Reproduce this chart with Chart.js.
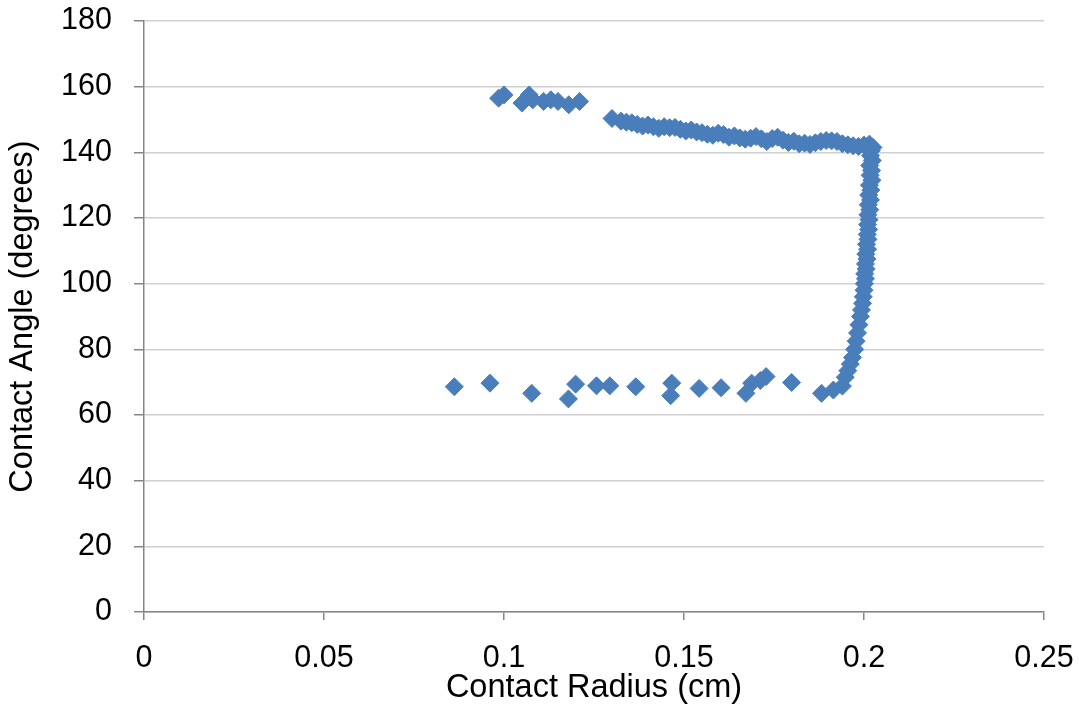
<!DOCTYPE html>
<html><head><meta charset="utf-8">
<script src="https://cdn.jsdelivr.net/npm/chart.js@4/dist/chart.umd.min.js"></script>
<style>html,body{margin:0;padding:0;background:#fff}#wrap{width:1079px;height:711px}</style>
</head><body><div id="wrap"><canvas id="c" width="1079" height="711"></canvas></div>
<script>
// Contact radius (cm)
const radius = [
  0.0985,0.1000,0.1050,0.1070,0.1080,0.1110,0.1130,0.1150,0.1180,0.1210,
  0.1300,0.1325,0.1340,0.1355,0.1370,0.1385,0.1400,0.1415,0.1430,0.1445,
  0.1460,0.1475,0.1490,0.1505,0.1520,0.1535,0.1550,0.1565,0.1580,0.1595,
  0.1610,0.1625,0.1640,0.1655,0.1670,0.1685,0.1700,0.1715,0.1730,0.1745,
  0.1760,0.1775,0.1790,0.1805,0.1820,0.1835,0.1850,0.1865,0.1880,0.1895,
  0.1910,0.1925,0.1940,0.1955,0.1970,0.1985,0.2000,0.2015,0.2025,
  0.2020,0.2018,0.2023,0.2016,0.2021,0.2017,0.2022,0.2015,0.2019,0.2013,
  0.2018,0.2012,0.2016,0.2011,0.2014,0.2010,0.2013,0.2009,0.2011,0.2007,
  0.2010,0.2005,0.2008,0.2004,0.2006,0.2002,0.2004,0.2001,0.2000,0.1998,
  0.1996,0.1993,0.1990,0.1986,0.1982,0.1978,0.1974,0.1968,0.1962,0.1955,0.1948,
  0.0862,0.0961,0.1077,0.1179,0.1199,0.1257,0.1294,0.1366,0.1463,0.1466,
  0.1542,0.1603,0.1672,0.1688,0.1712,0.1728,0.1799,0.1882,0.1915,0.1940
];
// Contact angle (degrees)
const angle = [
  156.5,157.5,155.0,157.5,156.0,155.5,156.0,155.5,154.5,155.5,
  150.3,149.5,149.2,149.0,148.5,148.0,148.3,147.8,147.3,147.8,
  147.5,147.6,147.0,146.5,146.8,146.2,146.0,145.5,145.2,145.8,
  145.4,144.6,145.0,144.4,144.0,144.3,144.8,144.1,143.3,144.2,
  144.6,143.7,143.0,143.4,142.6,142.8,142.4,142.9,143.3,143.6,
  143.5,143.3,142.6,142.3,142.0,141.8,142.2,142.5,141.5,
  140.5,139.0,137.5,136.0,134.5,133.0,131.5,130.0,128.5,127.0,
  125.5,124.0,122.5,121.0,119.5,118.0,116.5,115.0,113.5,112.0,
  110.5,109.0,107.5,106.0,104.5,103.0,101.5,100.0,98.0,96.0,
  94.0,92.0,90.0,87.5,85.0,82.5,80.0,77.5,75.5,73.5,71.5,
  68.6,69.7,66.6,64.9,69.4,68.9,68.9,68.6,65.9,69.7,
  68.1,68.3,66.6,69.7,70.5,71.7,69.9,66.6,67.6,68.8
];
const xTicks = [0, 0.05, 0.1, 0.15, 0.2, 0.25];
const yTicks = [0, 20, 40, 60, 80, 100, 120, 140, 160, 180];

const pts = radius.map((r, i) => ({x: r, y: angle[i]}));
const FONT = "'Liberation Sans', Arial, sans-serif";

new Chart(document.getElementById('c'), {
  type: 'scatter',
  data: { datasets: [{
    data: pts,
    pointStyle: 'rectRot',
    pointRadius: 9,
    pointBackgroundColor: '#4a7ebb',
    pointBorderColor: '#4a7ebb',
    pointBorderWidth: 1
  }]},
  options: {
    responsive: false,
    animation: false,
    devicePixelRatio: 1,
    layout: { padding: { top: 21, right: 35, bottom: 0, left: 0 } },
    plugins: { legend: { display: false }, tooltip: { enabled: false } },
    scales: {
      x: {
        type: 'linear', min: xTicks[0], max: xTicks[xTicks.length-1],
        afterBuildTicks: s => { s.ticks = xTicks.map(v => ({value: v})); },
        afterFit: s => { s.height = 99; s.paddingLeft = 0; s.paddingRight = 0; },
        grid: { drawOnChartArea: false, drawTicks: true, tickLength: 8, color: '#868686', lineWidth: 1.5 },
        border: { color: '#868686', width: 1.5 },
        ticks: { color: '#000', font: { family: FONT, size: 30.5 }, padding: 20, maxRotation: 0,
                 callback: v => String(v) },
        title: { display: true, text: 'Contact Radius (cm)', color: '#000',
                 font: { family: FONT, size: 32.5 }, padding: { top: 0, bottom: 3 } }
      },
      y: {
        type: 'linear', min: yTicks[0], max: yTicks[yTicks.length-1],
        afterBuildTicks: s => { s.ticks = yTicks.map(v => ({value: v})); },
        afterFit: s => { s.width = 144; s.paddingTop = 0; s.paddingBottom = 0; },
        grid: { color: '#d0d0d0', lineWidth: 1.5, drawTicks: true, tickLength: 10, tickColor: '#868686' },
        border: { color: '#868686', width: 1.5 },
        ticks: { color: '#000', font: { family: FONT, size: 30.5 }, padding: 22,
                 callback: v => String(v) },
        title: { display: true, text: 'Contact Angle (degrees)', color: '#000',
                 font: { family: FONT, size: 32.5 }, padding: { top: 4, bottom: 4 } }
      }
    }
  }
});
</script></body></html>
